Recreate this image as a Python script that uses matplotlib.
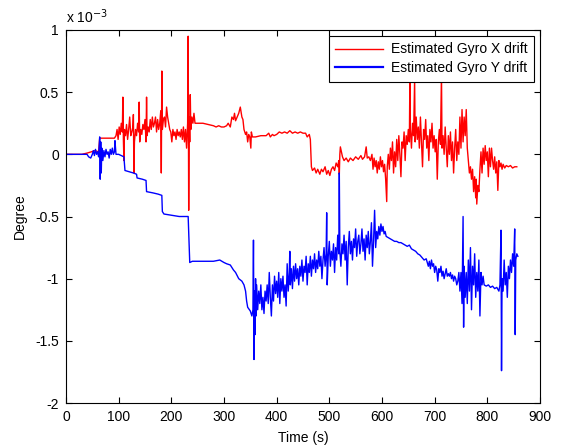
import matplotlib.pyplot as plt

# gyro drift estimates, values in units of 1e-3 degree
x_time = [0, 30, 40, 48, 55, 62, 64, 92, 95, 97, 99, 101, 103, 105, 107, 108, 109, 110, 111, 113,
          115, 117, 119, 121, 123, 125, 127, 128, 129, 130, 132, 134, 136, 138, 139, 140, 142, 144,
          146, 148, 150, 152, 153, 154, 156, 158, 160, 162, 164, 166, 168, 170, 172, 174, 176, 178,
          180, 181, 182, 183, 185, 187, 189, 191, 193, 195, 197, 199, 201, 203, 205, 207, 209, 211,
          213, 215, 217, 219, 221, 223, 225, 227, 229, 231, 232, 233, 234, 235, 236, 237, 239, 241,
          243, 245, 250, 260, 270, 280, 285, 290, 295, 300, 305, 308, 312, 315, 318, 320, 322, 325,
          328, 331, 334, 336, 338, 341, 343, 345, 347, 349, 351, 352, 354, 360, 370, 380, 385, 388,
          392, 395, 400, 405, 410, 415, 420, 425, 430, 435, 440, 445, 450, 455, 458, 462, 464, 466,
          468, 472, 475, 478, 482, 485, 488, 492, 495, 498, 501, 504, 507, 510, 513, 516, 518, 519,
          520, 521, 523, 525, 528, 532, 536, 540, 545, 550, 555, 560, 563, 567, 570, 572, 575, 578,
          581, 583, 585, 587, 589, 591, 593, 595, 597, 599, 601, 603, 605, 607, 609, 610, 612, 614,
          616, 618, 620, 622, 624, 626, 628, 630, 632, 634, 636, 638, 640, 642, 644, 646, 648, 650,
          652, 653, 654, 656, 658, 660, 662, 663, 665, 667, 669, 671, 673, 675, 677, 679, 681, 683,
          685, 687, 689, 691, 693, 695, 697, 699, 701, 703, 705, 707, 709, 711, 713, 714, 716, 718,
          720, 722, 724, 726, 728, 730, 732, 734, 736, 738, 740, 742, 744, 746, 748, 750, 752, 754,
          756, 758, 760, 762, 764, 766, 768, 770, 772, 774, 776, 778, 779, 780, 782, 784, 786, 788,
          790, 792, 794, 796, 798, 800, 802, 804, 806, 808, 810, 812, 814, 816, 818, 820, 822, 824,
          826, 828, 830, 833, 836, 840, 844, 848, 852, 856]
x_drift = [0, 0.0, 0.01, 0.02, 0.03, 0.02, 0.13, 0.13, 0.15, 0.2, 0.12, 0.22, 0.16, 0.25, 0.18, 0.46,
           0.12, -0.05, 0.2, 0.15, 0.24, 0.12, 0.2, 0.3, 0.15, 0.18, 0.22, 0.32, -0.15, 0.1, 0.2, 0.15,
           0.25, 0.18, 0.42, 0.1, 0.2, 0.16, 0.24, 0.2, 0.28, 0.1, 0.46, 0.15, 0.22, 0.18, 0.28, 0.2,
           0.3, 0.22, 0.25, 0.3, 0.18, 0.28, 0.2, 0.25, 0.35, -0.15, 0.67, 0.2, 0.28, 0.3, 0.22, 0.38,
           0.3, 0.25, 0.2, 0.18, 0.1, 0.2, 0.15, 0.18, 0.12, 0.2, 0.15, 0.18, 0.14, 0.2, 0.12, 0.22,
           0.1, 0.2, 0.05, 0.25, 0.95, -0.45, 0.3, 0.1, 0.48, 0.2, 0.3, 0.25, 0.33, 0.25, 0.25, 0.25,
           0.24, 0.23, 0.22, 0.23, 0.22, 0.22, 0.23, 0.25, 0.22, 0.3, 0.28, 0.33, 0.27, 0.3, 0.33,
           0.38, 0.3, 0.28, 0.2, 0.16, 0.18, 0.1, 0.16, 0.14, 0.05, 0.18, 0.14, 0.14, 0.15, 0.15,
           0.17, 0.14, 0.16, 0.15, 0.16, 0.18, 0.17, 0.18, 0.17, 0.19, 0.17, 0.18, 0.17, 0.18, 0.17,
           0.17, 0.14, 0.16, 0.12, -0.1, -0.13, -0.11, -0.15, -0.12, -0.16, -0.12, -0.14, -0.1, -0.16,
           -0.13, -0.17, -0.12, -0.1, -0.13, -0.07, -0.1, -0.05, -0.16, 0.0, 0.06, 0.02, -0.02, -0.05,
           -0.03, -0.06, -0.03, -0.05, -0.02, -0.04, -0.01, -0.04, -0.02, 0.06, -0.03, -0.02, -0.05,
           0.0, -0.12, -0.03, -0.1, -0.05, -0.15, -0.06, -0.12, -0.02, -0.1, -0.05, -0.14, -0.08, -0.2,
           -0.38, -0.1, 0.0, -0.12, 0.05, -0.05, 0.1, -0.15, 0.02, -0.1, 0.12, -0.05, 0.15, 0.0, -0.18,
           0.1, 0.05, 0.18, -0.05, 0.15, 0.08, 0.2, 0.1, 0.62, 0.2, 0.05, 0.25, 0.15, 0.6, 0.1, 0.3,
           0.12, 0.22, 0.05, 0.3, 0.1, -0.1, 0.2, 0.12, 0.28, 0.05, 0.15, -0.05, 0.2, 0.1, 0.25, 0.05,
           0.15, 0.02, 0.12, -0.2, 0.1, 0.2, 0.08, 0.65, 0.05, 0.15, 0.0, 0.22, 0.05, -0.1, 0.15, 0.0,
           0.18, -0.05, 0.1, -0.15, 0.05, 0.2, -0.05, 0.1, 0.0, 0.3, 0.05, 0.36, 0.1, 0.3, 0.15, 0.36,
           0.05, -0.05, -0.15, -0.1, -0.2, -0.12, -0.3, -0.18, -0.35, -0.2, -0.4, -0.25, -0.3, -0.12,
           0.02, -0.15, 0.05, -0.08, 0.07, -0.05, 0.02, -0.18, 0.05, -0.1, 0.05, -0.05, -0.12, -0.02,
           -0.15, -0.06, -0.29, -0.05, -0.1, -0.07, -0.12, -0.08, -0.11, -0.09, -0.1, -0.09, -0.11,
           -0.1, -0.1]

y_time = [0, 40, 43, 47, 50, 52, 54, 56, 58, 60, 62, 64, 65, 66, 67, 68, 70, 72, 74, 76, 78, 80,
          82, 84, 86, 88, 90, 92, 93, 95, 100, 105, 110, 112, 120, 128, 134, 135, 145, 152, 153, 165,
          175, 182, 183, 186, 200, 215, 232, 233, 235, 240, 260, 280, 292, 300, 305, 312, 318, 322,
          328, 334, 338, 341, 343, 345, 350, 353, 355, 356, 357, 358, 359, 360, 361, 362, 364, 366,
          368, 370, 372, 374, 376, 378, 380, 382, 384, 386, 388, 390, 392, 394, 396, 398, 400, 402,
          404, 406, 408, 410, 412, 414, 416, 418, 420, 422, 424, 425, 426, 428, 430, 432, 434, 436,
          438, 440, 442, 444, 446, 448, 450, 452, 454, 456, 458, 460, 462, 464, 466, 468, 470, 472,
          474, 476, 478, 480, 482, 484, 486, 488, 490, 492, 494, 495, 496, 498, 500, 502, 504, 506,
          508, 510, 512, 514, 516, 518, 519, 520, 522, 524, 526, 528, 530, 532, 534, 536, 538, 540,
          542, 544, 546, 548, 550, 552, 554, 556, 558, 560, 562, 564, 566, 568, 570, 572, 574, 576,
          578, 580, 582, 584, 586, 588, 590, 592, 594, 596, 598, 600, 602, 604, 606, 608, 612, 616,
          620, 624, 628, 632, 636, 640, 644, 648, 652, 656, 660, 664, 668, 672, 676, 680, 684, 688,
          690, 692, 694, 696, 698, 700, 702, 704, 706, 708, 710, 712, 714, 716, 718, 720, 722, 724,
          726, 728, 730, 732, 734, 736, 738, 740, 742, 744, 746, 748, 750, 752, 754, 755, 756, 758,
          760, 762, 764, 766, 768, 770, 772, 774, 776, 778, 780, 782, 784, 786, 788, 790, 792, 794,
          798, 802, 806, 810, 814, 818, 822, 824, 826, 827, 828, 830, 832, 834, 836, 838, 840, 842,
          844, 846, 848, 850, 852, 853, 854, 856, 858]
y_drift = [0, 0.0, -0.02, -0.03, 0.0, 0.03, -0.01, 0.04, 0.0, 0.02, -0.02, 0.14, -0.2, 0.1, -0.15,
           0.05, -0.05, 0.03, -0.02, 0.04, 0.0, 0.02, -0.03, 0.04, 0.0, 0.05, 0.0, 0.02, 0.11, 0.0,
           0.0, -0.01, -0.02, -0.13, -0.14, -0.15, -0.16, -0.19, -0.2, -0.21, -0.3, -0.31, -0.32,
           -0.33, -0.46, -0.48, -0.49, -0.5, -0.5, -0.63, -0.87, -0.86, -0.86, -0.86, -0.85, -0.87,
           -0.88, -0.89, -0.93, -0.95, -1.0, -1.02, -1.05, -1.1, -1.18, -1.23, -1.26, -1.3, -1.25,
           -0.69, -1.65, -1.1, -1.45, -1.0, -1.3, -1.05, -1.25, -1.1, -1.2, -1.05, -1.25, -1.15, -1.28,
           -1.1, -1.18, -1.05, -1.2, -0.95, -1.15, -1.3, -1.05, -1.18, -0.98, -1.12, -1.02, -1.15,
           -0.95, -1.2, -1.0, -1.1, -0.98, -1.15, -1.05, -1.22, -0.88, -1.1, -0.95, -0.78, -1.05,
           -0.92, -1.08, -0.9, -1.02, -0.88, -1.0, -0.92, -1.05, -0.9, -0.98, -0.85, -1.02, -0.9,
           -0.95, -0.82, -1.05, -0.88, -0.95, -0.82, -0.98, -0.85, -0.92, -0.8, -0.95, -0.85, -0.92,
           -0.78, -0.9, -0.82, -1.0, -0.85, -0.75, -0.9, -0.8, -0.47, -1.05, -0.82, -0.7, -0.9, -0.78,
           -0.85, -0.72, -0.95, -0.75, -0.85, -0.65, -0.8, -0.15, -0.78, -0.9, -0.72, -0.8, -0.65,
           -0.85, -0.7, -1.05, -0.75, -0.62, -0.8, -0.7, -0.85, -0.68, -0.75, -0.6, -0.82, -0.7,
           -0.65, -0.8, -0.72, -0.6, -0.78, -0.68, -0.85, -0.65, -0.75, -0.62, -0.8, -0.7, -0.55,
           -0.9, -0.7, -0.45, -0.75, -0.62, -0.68, -0.58, -0.65, -0.56, -0.62, -0.58, -0.64, -0.62,
           -0.66, -0.67, -0.68, -0.69, -0.7, -0.7, -0.71, -0.71, -0.72, -0.73, -0.74, -0.73, -0.76,
           -0.77, -0.78, -0.8, -0.81, -0.83, -0.85, -0.84, -0.9, -0.86, -0.92, -0.85, -0.9, -0.88,
           -0.95, -0.9, -0.93, -1.02, -0.92, -0.95, -0.9, -0.98, -0.94, -1.0, -0.96, -0.92, -0.98,
           -0.96, -0.98, -0.95, -1.0, -0.97, -1.02, -0.98, -1.0, -1.05, -1.02, -0.95, -1.1, -0.95,
           -1.2, -0.5, -1.39, -0.9, -1.15, -0.95, -1.2, -0.85, -1.1, -0.75, -1.25, -0.9, -1.05, -0.8,
           -1.15, -0.95, -1.1, -0.85, -1.3, -0.95, -1.05, -0.98, -1.05, -1.06, -1.05, -1.07, -1.06,
           -1.08, -1.07, -1.1, -1.05, -0.61, -1.74, -1.0, -1.1, -0.85, -1.05, -0.95, -1.15, -0.9, -1.0,
           -0.85, -0.95, -0.8, -0.9, -0.6, -1.45, -0.85, -0.8, -0.82]

x_ticks = [0, 100, 200, 300, 400, 500, 600, 700, 800, 900]
y_ticks = [-2, -1.5, -1, -0.5, 0, 0.5, 1]
y_ticklabels = ['-2', '-1.5', '-1', '-0.5', '0', '0.5', '1']

plt.rcParams['font.family'] = ['Liberation Sans', 'DejaVu Sans']

fig = plt.figure(figsize=(5.62, 4.47), dpi=100)
ax = fig.add_axes([0.1174, 0.0984, 0.8434, 0.8345])

ax.plot(x_time, x_drift, color='#ff0000', lw=1.0, label='Estimated Gyro X drift')
ax.plot(y_time, y_drift, color='#0000ff', lw=1.0, label='Estimated Gyro Y drift')

ax.set_xlim(0, 900)
ax.set_ylim(-2, 1)
ax.set_xticks(x_ticks)
ax.set_yticks(y_ticks)
ax.set_yticklabels(y_ticklabels)
ax.tick_params(direction='in', top=True, right=True, length=4, labelsize=10, pad=5)
for s in ax.spines.values():
    s.set_linewidth(0.8)

ax.set_xlabel('Time (s)', fontsize=10, labelpad=5)
ax.set_ylabel('Degree', fontsize=10, labelpad=6)
ax.text(0.0, 1.012, r'x 10$^{-3}$', transform=ax.transAxes, fontsize=10, va='bottom', ha='left')

leg = ax.legend(loc='upper right', fontsize=10, fancybox=False, framealpha=1, edgecolor='black',
                handlelength=3.4, borderaxespad=0.45, borderpad=0.45, labelspacing=0.35,
                handletextpad=0.6)
leg.get_frame().set_linewidth(0.8)
leg.legend_handles[1].set_linewidth(1.6)

fig.savefig('out.png', dpi=100)
